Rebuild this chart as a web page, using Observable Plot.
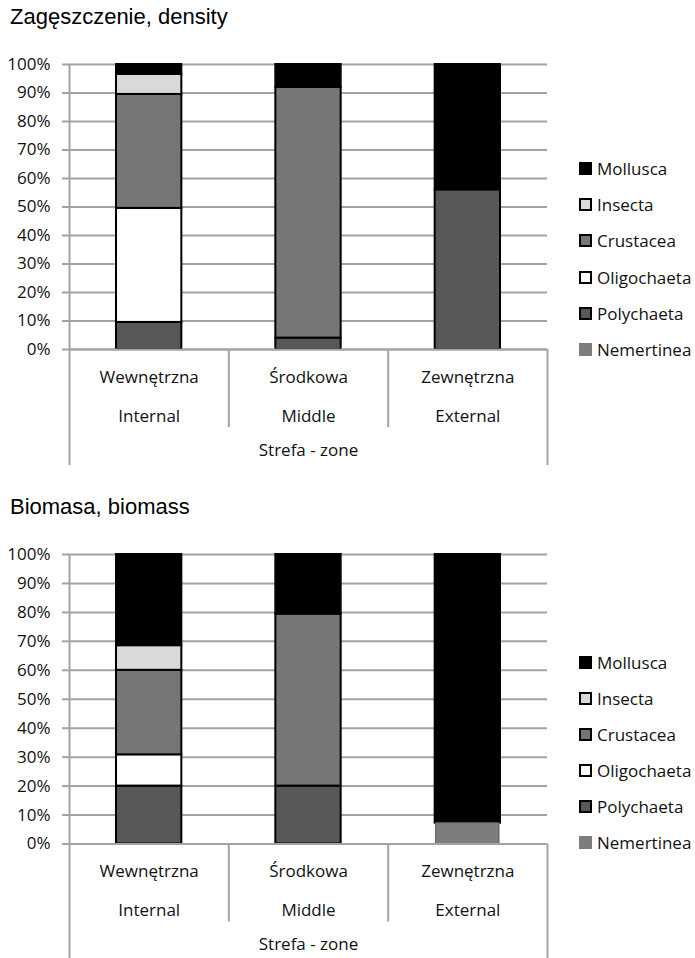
<!DOCTYPE html>
<html><head><meta charset="utf-8">
<script src="https://cdn.jsdelivr.net/npm/d3@7"></script>
<script src="https://cdn.jsdelivr.net/npm/@observablehq/plot@0.6"></script>
<style>
body{margin:0;background:#fff;}
#page{position:relative;width:695px;height:958px;overflow:hidden;font-family:'Open Sans',sans-serif;background:#fff;}
.title{position:absolute;left:10px;font-family:'Liberation Sans',Arial,sans-serif;font-size:22px;line-height:22px;color:#000;white-space:nowrap;}
.chart{position:absolute;left:0;}
.legend{position:absolute;left:579px;}
.item{display:flex;align-items:center;font-size:17px;color:#111;white-space:nowrap;}
.swatch{width:13px;height:13px;box-sizing:border-box;border:2px solid #000;margin-right:5px;flex:none;}
</style></head>
<body><div id="page"></div>
<script>
// ---- data ----
const zones = ["Wewnętrzna", "Środkowa", "Zewnętrzna"];
const zonesEn = ["Internal", "Middle", "External"];
const axisTitle = "Strefa - zone";
const titles = ["Zagęszczenie, density", "Biomasa, biomass"];
// stacking order, bottom to top
const taxa = ["Nemertinea", "Polychaeta", "Oligochaeta", "Crustacea", "Insecta", "Mollusca"];
const taxaColors = ["#7d7d7d", "#585858", "#ffffff", "#767676", "#d9d9d9", "#000000"];
const yTicks = [0, 10, 20, 30, 40, 50, 60, 70, 80, 90, 100];

// values (%) per zone, in taxa order
const densityInternal = [0, 9.5, 40, 40, 7, 3.5];
const densityMiddle   = [0, 4, 0, 88, 0, 8];
const densityExternal = [0, 56, 0, 0, 0, 44];
const biomassInternal = [0, 20, 10.8, 29.2, 8.5, 31.5];
const biomassMiddle   = [0, 20, 0, 59.4, 0, 20.6];
const biomassExternal = [7.2, 0, 0, 0, 0, 92.8];

const page = document.getElementById("page");

function buildRows(values) {
  const rows = [];
  values.forEach((vals, zi) => {
    let acc = 0;
    vals.forEach((v, ti) => {
      if (v > 0) rows.push({zone: zi, taxon: taxa[ti], lo: acc, hi: acc + v});
      acc += v;
    });
  });
  return rows;
}

function chart(values, cfg) {
  const rows = buildRows(values);
  const bounds = d3.range(zones.length + 1);
  const gray = "#a3a3a3";
  const plot = Plot.plot({
    width: 695,
    height: cfg.height,
    marginLeft: 69,
    marginRight: 148,
    marginTop: cfg.marginTop,
    marginBottom: cfg.marginBottom,
    style: {fontFamily: "'Open Sans', sans-serif", fontSize: "17px", background: "transparent", overflow: "visible", color: "#111"},
    x: {domain: [0, zones.length], axis: null},
    y: {domain: [0, 100], axis: null, label: null},
    color: {domain: taxa, range: taxaColors},
    marks: [
      Plot.ruleY(yTicks, {y: d => d, stroke: gray, strokeWidth: 2}),
      Plot.axisY(yTicks, {tickFormat: d => d + "%", tickSize: 7, tickPadding: 12, stroke: gray, strokeWidth: 2, label: null, fontSize: 17}),
      Plot.rect(rows.filter(d => d.taxon !== "Nemertinea"), {
        x1: d => d.zone, x2: d => d.zone + 1, y1: "lo", y2: "hi",
        insetLeft: 47, insetRight: 47, fill: "taxon", stroke: "#000", strokeWidth: 2
      }),
      Plot.rect(rows.filter(d => d.taxon === "Nemertinea"), {
        x1: d => d.zone, x2: d => d.zone + 1, y1: "lo", y2: "hi",
        insetLeft: 48, insetRight: 48, fill: "taxon", stroke: "#5a5a5a", strokeWidth: 1
      }),
      // category dividers
      Plot.ruleX(bounds.slice(1, -1), {x: d => d, y1: 0, y2: 0, insetBottom: -78, stroke: gray, strokeWidth: 2}),
      Plot.ruleX([bounds[bounds.length - 1]], {x: d => d, y1: 0, y2: 0, insetBottom: -cfg.outer, stroke: gray, strokeWidth: 2}),
      Plot.ruleX([bounds[0]], {x: d => d, y1: 100, y2: 0, insetBottom: -cfg.outer, stroke: gray, strokeWidth: 2}),
      Plot.ruleY([0], {y: d => d, x1: bounds[0], x2: bounds[bounds.length - 1], stroke: gray, strokeWidth: 2}),
      Plot.text(zones, {x: (d, i) => i + 0.5, y: () => 0, dy: 28, text: d => d}),
      Plot.text(zonesEn, {x: (d, i) => i + 0.5, y: () => 0, dy: 67, text: d => d}),
      Plot.text([axisTitle], {frameAnchor: "bottom", dy: 106, text: d => d})
    ]
  });
  plot.classList.add("chart");
  plot.style.top = cfg.top + "px";
  page.appendChild(plot);

  const t = document.createElement("div");
  t.className = "title";
  t.style.top = cfg.titleTop + "px";
  t.textContent = cfg.title;
  page.appendChild(t);

  const lg = document.createElement("div");
  lg.className = "legend";
  lg.style.top = cfg.legendTop + "px";
  taxa.slice().reverse().forEach(name => {
    const idx = taxa.indexOf(name);
    const it = document.createElement("div");
    it.className = "item";
    it.style.height = cfg.legendStep + "px";
    const sw = document.createElement("span");
    sw.className = "swatch";
    sw.style.background = taxaColors[idx];
    if (name === "Nemertinea") sw.style.border = "none";
    const tx = document.createElement("span");
    tx.textContent = name;
    it.appendChild(sw); it.appendChild(tx);
    lg.appendChild(it);
  });
  page.appendChild(lg);
}

chart([densityInternal, densityMiddle, densityExternal], {
  top: 0, height: 475, marginTop: 64, marginBottom: 126, outer: 116,
  title: titles[0], titleTop: 6, legendTop: 150, legendStep: 36.3
});
chart([biomassInternal, biomassMiddle, biomassExternal], {
  top: 490, height: 468, marginTop: 64, marginBottom: 114.5, outer: 116,
  title: titles[1], titleTop: 496, legendTop: 644.5, legendStep: 36
});
</script>
</body></html>
